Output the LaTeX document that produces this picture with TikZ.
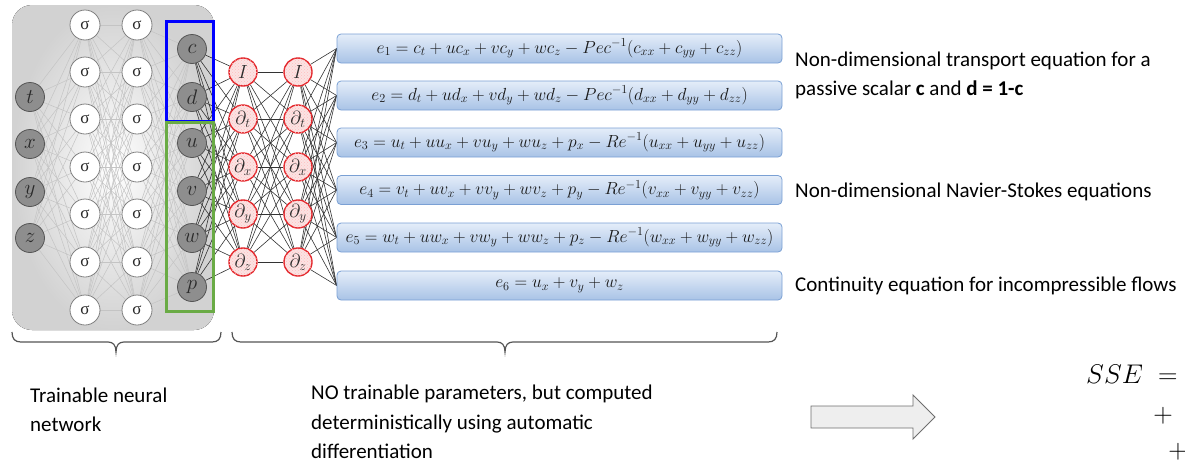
\RequirePackage{fix-cm}
\documentclass[tikz,border=0pt]{standalone}
\usepackage[no-math]{fontspec}
\setmainfont{Carlito}
\newfontfamily\greekfont{Liberation Serif}
\usetikzlibrary{patterns}
\definecolor{bgouter}{HTML}{D2D2D2}
\definecolor{nodegray}{HTML}{8E8E8E}
\definecolor{nodeedge}{HTML}{555555}
\definecolor{labelgray}{HTML}{2A2A2A}
\definecolor{sigedge}{HTML}{808080}
\definecolor{pinkfill}{HTML}{FBE3E3}
\definecolor{rededge}{HTML}{E3262B}
\definecolor{eqtop}{HTML}{E4EDF9}
\definecolor{eqbot}{HTML}{A9C3E6}
\definecolor{eqedge}{HTML}{7AA0D4}
\definecolor{linegray}{HTML}{C4C4C4}
\definecolor{linedark}{HTML}{333333}
\definecolor{bracecol}{HTML}{555555}
\definecolor{arrowfill}{HTML}{EEEEEE}
\definecolor{arrowedge}{HTML}{6E6E6E}
\definecolor{boxblue}{HTML}{0000FF}
\definecolor{boxgreen}{HTML}{6AAB45}
\pgfdeclarelayer{back}
\pgfdeclarelayer{wires}
\pgfsetlayers{back,wires,main}
\tikzset{
  innode/.style={circle, minimum size=29pt, inner sep=0pt, fill=nodegray, draw=nodeedge, line width=0.8pt, text=labelgray, font=\fontsize{21}{21}\selectfont},
  signode/.style={circle, minimum size=30pt, inner sep=0pt, fill=white, draw=sigedge, line width=0.8pt, text=labelgray, font=\greekfont\fontsize{17}{17}\selectfont},
  dnode/.style={circle, minimum size=28pt, inner sep=0pt, fill=pinkfill, draw=rededge, line width=1.4pt, text=labelgray, font=\fontsize{19}{19}\selectfont, postaction={pattern=crosshatch dots, pattern color=red!25}},
  eqbox/.style={rectangle, rounded corners=4pt, top color=eqtop, bottom color=eqbot, draw=eqedge, line width=0.8pt, minimum width=445pt, minimum height=29pt, inner sep=0pt, text=black!90, font=\fontsize{17.5}{17.5}\selectfont},
  lightline/.style={draw=linegray, line width=0.5pt},
  darkline/.style={draw=linedark, line width=0.6pt},
  note/.style={anchor=base west, inner sep=0pt, font=\fontsize{21}{29}\selectfont},
  bracestyle/.style={draw=bracecol, line width=1.2pt},
  mathnote/.style={inner sep=0pt, font=\fontsize{27}{27}\selectfont},
}
\begin{document}
\begin{tikzpicture}[x=1pt,y=-1pt]
\useasboundingbox (0,0) rectangle (1185,461);
\begin{pgfonlayer}{back}
  \fill[rounded corners=20pt, inner color=white, outer color=bgouter] (12,5) rectangle (214,330);
\end{pgfonlayer}
% input nodes
\foreach \n/\y/\l in {1/97/t,2/144/x,3/192/y,4/238/z}
  \node[innode] (in\n) at (30,\y) {$\l$};
% sigma layers
\foreach \n/\y in {1/25,2/72,3/119,4/167,5/214,6/262,7/310} {
  \node[signode] (sa\n) at (85,\y) {σ};
  \node[signode] (sb\n) at (137,\y) {σ};
}
% outputs
\foreach \n/\y/\l in {1/49/c,2/97/d,3/143/u,4/191/v,5/238/w,6/287/p}
  \node[innode] (out\n) at (192,\y) {$\l$};
% derivative layers
\foreach \n/\y/\l in {1/72/I,2/119/\partial_t,3/167/\partial_x,4/214/\partial_y,5/262/\partial_z} {
  \node[dnode] (da\n) at (243,\y) {$\l$};
  \node[dnode] (db\n) at (298,\y) {$\l$};
}
% equation boxes
\node[eqbox] (eq1) at (559.5,48.5) {$e_1 = c_t + uc_x + vc_y + wc_z - Pec^{-1}(c_{xx} + c_{yy} + c_{zz})$};
\node[eqbox] (eq2) at (559.5,95.5) {$e_2 = d_t + ud_x + vd_y + wd_z - Pec^{-1}(d_{xx} + d_{yy} + d_{zz})$};
\node[eqbox] (eq3) at (559.5,142.5) {$e_3 = u_t + uu_x + vu_y + wu_z + p_x - Re^{-1}(u_{xx} + u_{yy} + u_{zz})$};
\node[eqbox] (eq4) at (559.5,190) {$e_4 = v_t + uv_x + vv_y + wv_z + p_y - Re^{-1}(v_{xx} + v_{yy} + v_{zz})$};
\node[eqbox] (eq5) at (559.5,237.5) {$e_5 = w_t + uw_x + vw_y + ww_z + p_z - Re^{-1}(w_{xx} + w_{yy} + w_{zz})$};
\node[eqbox] (eq6) at (559.5,285.5) {$e_6 = u_x + v_y + w_z$};
% wires
\begin{pgfonlayer}{wires}
  \foreach \i in {1,...,4} \foreach \j in {1,...,7} \draw[lightline] (in\i) -- (sa\j);
  \foreach \i in {1,...,7} \foreach \j in {1,...,7} \draw[lightline] (sa\i) -- (sb\j);
  \foreach \i in {1,...,7} \foreach \j in {1,...,6} \draw[lightline] (sb\i) -- (out\j);
  \foreach \i in {1,...,6} \foreach \j in {1,...,5} \draw[darkline] (out\i) -- (da\j);
  \foreach \i in {1,...,5} \foreach \j in {1,...,5} \draw[darkline] (da\i) -- (db\j);
  \foreach \i in {1,...,5} \foreach \j in {1,...,6} \draw[darkline] (db\i) -- (eq\j.west);
\end{pgfonlayer}
% group frames
\draw[boxblue, line width=3pt] (166,21) rectangle (213,121);
\draw[boxgreen, line width=3pt] (166,122.5) rectangle (213,311);
% right notes
\node[note] (n1) at (795,66) {Non-dimensional transport equation for a};
\node[note] (n2) at (795,95) {passive scalar \textbf{c} and \textbf{d = 1-c}};
\node[note] (n3) at (795,197) {Non-dimensional Navier-Stokes equations};
\node[note] (n4) at (795,291) {Continuity equation for incompressible flows};
% braces
\draw[bracestyle] (12,332) .. controls (12,339) and (15,342) .. (21,342) -- (108,342)
  .. controls (113,342) and (116,345) .. (116,352) .. controls (116,345) and (119,342) .. (124,342)
  -- (212,342) .. controls (218,342) and (221,339) .. (221,332);
\draw[bracestyle] (232,332) .. controls (232,339) and (235,342) .. (241,342) -- (497,342)
  .. controls (502,342) and (505,345) .. (505,352) .. controls (505,345) and (508,342) .. (513,342)
  -- (768,342) .. controls (774,342) and (777,339) .. (777,332);
% bottom notes
\node[note] (b1) at (30,402) {Trainable neural};
\node[note] (b2) at (30,431) {network};
\node[note] (b3) at (311,399) {NO trainable parameters, but computed};
\node[note] (b4) at (311,429) {deterministically using automatic};
\node[note] (b5) at (311,458) {differentiation};
% block arrow
\draw[fill=arrowfill, draw=arrowedge, line width=0.9pt] (811,406) -- (913,406) -- (913,395) -- (935,417) -- (913,439) -- (913,428) -- (811,428) -- cycle;
% SSE
\node[mathnote, anchor=base west] (sse) at (1086,383) {$SSE\;=$};
\node[mathnote] (plus1) at (1163,416) {$+$};
\node[mathnote] (plus2) at (1178,452) {$+$};
\end{tikzpicture}
\end{document}
